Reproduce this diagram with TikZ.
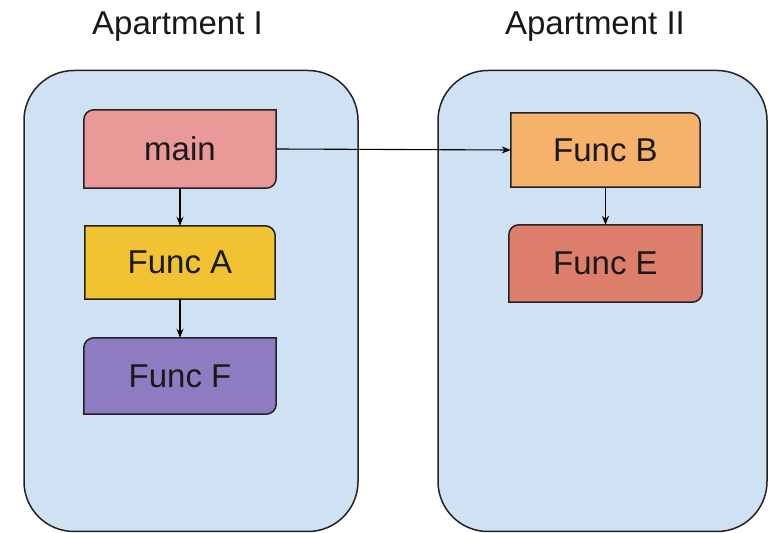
\documentclass[tikz,border=0pt]{standalone}
\usepackage{fontspec}
\setmainfont{Liberation Sans}
\usetikzlibrary{arrows.meta,backgrounds}

\definecolor{apt}{HTML}{CFE2F3}
\definecolor{cmain}{HTML}{EA9999}
\definecolor{cfuncA}{HTML}{F1C232}
\definecolor{cfuncF}{HTML}{8E7CC3}
\definecolor{cfuncB}{HTML}{F6B26B}
\definecolor{cfuncE}{HTML}{DD7E6B}
\definecolor{edge}{HTML}{222222}

% r = corner radius of the function boxes
\def\r{10}

% box outline with rounded top-left and bottom-right corners
\newcommand\diagbox[2]{%
  \draw[boxline,fill=#2]
    ([yshift=-\r]#1.north west) arc[start angle=180,end angle=90,radius=\r]
    -- (#1.north east)
    -- ([yshift=\r]#1.south east) arc[start angle=0,end angle=-90,radius=\r]
    -- (#1.south west) -- cycle;}
% box outline with rounded top-right corner only
\newcommand\cornerbox[2]{%
  \draw[boxline,fill=#2]
    (#1.south west) -- (#1.north west)
    -- ([xshift=-\r]#1.north east) arc[start angle=90,end angle=0,radius=\r]
    -- (#1.south east) -- cycle;}

\tikzset{
  func/.style={inner sep=0pt,font=\fontsize{33}{39}\selectfont,text=black!90},
  boxline/.style={draw=edge,line width=1.5pt},
  aptbox/.style={draw=edge,line width=1.5pt,fill=apt,rounded corners=50pt},
  title/.style={anchor=base,font=\fontsize{33}{39}\selectfont,text=black!90},
  link/.style={draw=black,line width=1.1pt,-{Stealth[length=9pt,width=7pt]}}
}

\begin{document}
\begin{tikzpicture}[x=1pt,y=1pt]
\useasboundingbox (0,0) rectangle (769,533);

% function boxes (text layer)
\node[func,minimum width=192pt,minimum height=78pt] (main)  at (180,384) {main};
\node[func,minimum width=190pt,minimum height=73pt] (funcA) at (180,270.5) {Func A};
\node[func,minimum width=192pt,minimum height=76pt] (funcF) at (180,157) {Func F};
\node[func,minimum width=189pt,minimum height=74pt] (funcB) at (605.5,383) {Func B};
\node[func,minimum width=193pt,minimum height=77pt] (funcE) at (605.5,269.5) {Func E};

% apartment captions
\node[title] (t1) at (177.5,498) {Apartment I};
\node[title] (t2) at (595,498) {Apartment II};

\begin{scope}[on background layer]
  % apartment containers
  \node[aptbox,minimum width=334pt,minimum height=461pt,inner sep=0pt] (apt1) at (191,232) {};
  \node[aptbox,minimum width=329pt,minimum height=461pt,inner sep=0pt] (apt2) at (602.5,232) {};
  % box outlines
  \diagbox{main}{cmain}
  \cornerbox{funcA}{cfuncA}
  \diagbox{funcF}{cfuncF}
  \cornerbox{funcB}{cfuncB}
  \diagbox{funcE}{cfuncE}
\end{scope}

% calls
\draw[link] (main.south) -- (funcA.north);
\draw[link] (funcA.south) -- (funcF.north);
\draw[link] (main.east) -- (funcB.west);
\draw[link] (funcB.south) -- (funcE.north);
\end{tikzpicture}
\end{document}
